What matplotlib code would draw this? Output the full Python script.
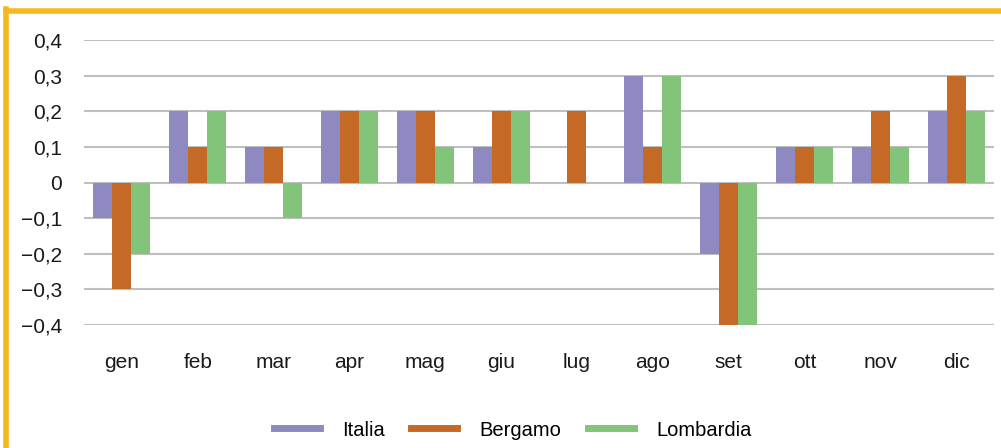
import numpy as np
import matplotlib.pyplot as plt
from matplotlib.lines import Line2D

mesi = ['gen', 'feb', 'mar', 'apr', 'mag', 'giu', 'lug', 'ago', 'set', 'ott', 'nov', 'dic']
italia = [-0.1, 0.2, 0.1, 0.2, 0.2, 0.1, 0.0, 0.3, -0.2, 0.1, 0.1, 0.2]
bergamo = [-0.3, 0.1, 0.1, 0.2, 0.2, 0.2, 0.2, 0.1, -0.4, 0.1, 0.2, 0.3]
lombardia = [-0.2, 0.2, -0.1, 0.2, 0.1, 0.2, 0.0, 0.3, -0.4, 0.1, 0.1, 0.2]
serie = ['Italia', 'Bergamo', 'Lombardia']
colori = ['#8E89C1', '#C56A26', '#81C47A']
yticks = [-0.4, -0.3, -0.2, -0.1, 0, 0.1, 0.2, 0.3, 0.4]

plt.rcParams['font.family'] = ['Liberation Sans', 'DejaVu Sans']

fig = plt.figure(figsize=(10.01, 4.48), dpi=100)
ax = fig.add_axes([84 / 1001, 1 - 325 / 448, 910 / 1001, 285 / 448])

x = np.arange(len(mesi))
w = 0.25
for i, (vals, nome, col) in enumerate(zip([italia, bergamo, lombardia], serie, colori)):
    ax.bar(x + (i - 1) * w, vals, width=w, color=col, label=nome, zorder=3)

ax.set_xlim(-0.5, len(mesi) - 0.5)
ax.set_ylim(-0.4, 0.4)
ax.set_yticks(yticks)
ax.set_yticklabels([('\u2212' if v < 0 else '') + ('%g' % abs(v)).replace('.', ',') for v in yticks])
ax.set_xticks(x)
ax.set_xticklabels(mesi)
ax.tick_params(axis='both', length=0, labelsize=15, colors='#1a1a1a')
ax.tick_params(axis='y', pad=16)
ax.tick_params(axis='x', pad=20)
ax.grid(axis='y', color='#BFBFBF', linewidth=1.5, zorder=0)
for s in ax.spines.values():
    s.set_visible(False)

handles = [Line2D([], [], color=c, linewidth=5) for c in colori]
fig.legend(handles, serie, loc='center', bbox_to_anchor=(0.5 + 12 / 1001, 1 - 430 / 448), ncol=3,
           frameon=False, fontsize=14.5, handlelength=2.3, handletextpad=1.1, columnspacing=1.3)

# cornice gialla
giallo = '#F5B81E'
fig.add_artist(Line2D([5.5 / 1001, 1], [1 - 11.5 / 448, 1 - 11.5 / 448], color=giallo, linewidth=4, transform=fig.transFigure))
fig.add_artist(Line2D([5.5 / 1001, 5.5 / 1001], [0, 1 - 9.5 / 448], color=giallo, linewidth=4, transform=fig.transFigure))

fig.savefig('out.png', dpi=100)
